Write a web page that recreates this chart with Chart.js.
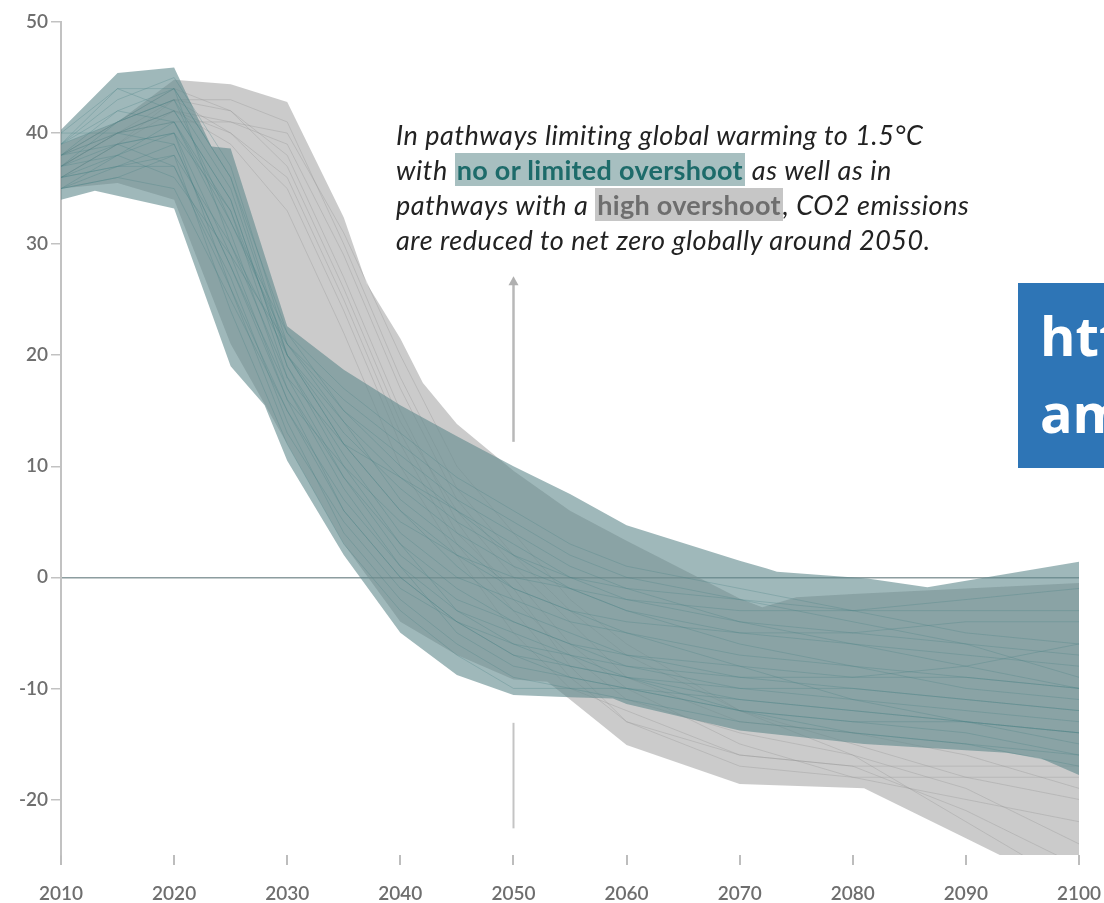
<!DOCTYPE html>
<html>
<head>
<meta charset="utf-8">
<script src="https://cdn.jsdelivr.net/npm/chart.js@4.4.1/dist/chart.umd.min.js"></script>
<style>
  html, body { margin: 0; padding: 0; background: #fff; overflow: hidden; }
  #wrap { position: relative; width: 1104px; height: 903px; }
  #note {
    position: absolute; left: 396px; top: 117px;
    font-family: Lato, "Open Sans", sans-serif; font-style: italic; font-size: 27px;
    letter-spacing: 0.55px; line-height: 35px; color: #222; white-space: nowrap;
  }
  #note .hl { font-style: normal; font-weight: bold; padding: 0 2px; letter-spacing: 0.3px; }
  #note .teal { background: #a7bfc0; color: #1d6b6a; }
  #note .gray { background: #c6c6c6; color: #6e6e6e; }
  #badge {
    position: absolute; left: 1018px; top: 283px; width: 120px; height: 185px;
    background: #2e75b6; color: #fff; overflow: hidden;
    font-family: "Open Sans", "Noto Sans", sans-serif; font-weight: bold; font-size: 54px;
    line-height: 77px; padding: 14px 0 0 22px; box-sizing: border-box; white-space: nowrap;
  }
</style>
</head>
<body>
<div id="wrap">
  <canvas id="c" width="1104" height="903"></canvas>
  <div id="note">In pathways limiting global warming to 1.5°C<br>with <span class="hl teal">no or limited overshoot</span> as well as in<br>pathways with a <span class="hl gray">high overshoot</span>, CO2 emissions<br>are reduced to net zero globally around 2050.</div>
  <div id="badge">htt<br>am</div>
</div>
<script>
// Net global CO2 emissions (GtCO2/yr), 2010–2100

// Years at which the individual pathways are sampled
const years = [2010, 2015, 2020, 2025, 2030, 2035, 2040, 2045, 2050, 2055, 2060, 2070, 2080, 2090, 2100];

// Envelope of pathways with no or limited overshoot: [year, value]
const limitedTop = [[2010, 40.3], [2015, 45.4], [2020, 45.9], [2023.3, 38.8], [2025, 38.6], [2030, 22.6],
  [2035, 18.7], [2040, 15.5], [2045, 12.7], [2050, 10.0], [2055, 7.5], [2060, 4.7], [2070, 1.5],
  [2072.4, 0.8], [2073.3, 0.5], [2081.3, -0.1], [2086.6, -0.9], [2100, 1.4]];
const limitedBottom = [[2010, 34.0], [2013, 34.8], [2020, 33.2], [2025, 19.0], [2028, 15.5], [2030, 10.5],
  [2035, 2.0], [2040, -5.0], [2045, -8.8], [2050, -10.6], [2055, -10.8], [2058.8, -10.9], [2060, -11.4],
  [2070, -13.8], [2081, -15.0], [2093.6, -15.8], [2096.6, -16.3], [2100, -17.8]];

// Envelope of pathways with a high overshoot: [year, value]
const highTop = [[2010, 39.0], [2015, 41.0], [2020, 44.8], [2025, 44.4], [2030, 42.8], [2035, 32.4],
  [2037, 26.5], [2040, 21.5], [2042, 17.5], [2045, 13.8], [2050, 9.6], [2055, 6.0], [2060, 3.3],
  [2070, -1.9], [2072, -2.7], [2075, -1.8], [2080, -1.5], [2090, -1.0], [2100, -0.5]];
const highBottom = [[2010, 35.0], [2015, 35.5], [2020, 34.0], [2025, 21.0], [2030, 12.0], [2035, 3.0],
  [2040, -4.0], [2045, -7.0], [2050, -9.2], [2053, -9.4], [2055, -11.0], [2057.7, -13.2], [2060, -15.1],
  [2070, -18.6], [2081, -19.0], [2090, -23.5], [2093, -25.0], [2100, -31.0]];

// Individual pathways, no or limited overshoot
const limitedPaths = [
  [38, 41, 44, 36, 22, 15, 10, 6, 3, 0, -2, -4, -5, -6, -7],
  [36, 37, 38, 30, 20, 12, 6, 1, -3, -5, -7, -9, -10, -11, -12],
  [35, 36, 35, 25, 15, 6, 0, -4, -7, -8, -9, -11, -12, -13, -15],
  [39, 43, 45, 37, 21, 16, 12, 8, 5, 2, 0, -2, -3, -3, -3],
  [37, 39, 40, 33, 18, 9, 2, -2, -4, -6, -7, -8, -9, -9, -10],
  [40, 44, 42, 34, 19, 11, 4, 0, -2, -4, -5, -7, -8, -10, -11],
  [36, 38, 41, 31, 17, 8, 1, -5, -8, -9, -10, -12, -13, -14, -16],
  [38, 40, 39, 28, 16, 10, 5, 2, 0, -1, -3, -5, -6, -7, -8],
  [35, 37, 37, 27, 14, 4, -2, -6, -9, -10, -10, -11, -12, -13, -14],
  [39, 41, 43, 35, 20, 13, 8, 4, 1, -1, -2, -3, -3, -2, -1],
  [37, 38, 36, 29, 21, 14, 7, 3, -1, -3, -5, -8, -11, -13, -14],
  [38, 42, 44, 30, 18, 12, 9, 6, 2, 0, -1, -2, -4, -6, -9],
  [36, 39, 40, 26, 13, 5, -1, -4, -6, -7, -8, -10, -10, -11, -12],
  [40, 40, 41, 32, 22, 17, 13, 9, 6, 3, 1, -1, -3, -5, -6],
  [35, 36, 38, 24, 12, 3, -3, -7, -10, -10, -11, -13, -14, -15, -17],
  [37, 40, 42, 34, 19, 10, 3, -1, -4, -6, -8, -9, -9, -8, -6],
  [39, 42, 41, 33, 20, 14, 9, 5, 2, -1, -3, -6, -8, -9, -10],
  [36, 37, 39, 28, 17, 9, 3, -3, -6, -8, -9, -10, -11, -12, -13],
  [38, 39, 37, 26, 15, 7, 1, -3, -5, -7, -9, -12, -13, -13, -14],
  [37, 41, 43, 32, 21, 15, 11, 7, 4, 1, -1, -4, -6, -8, -10],
  [35, 38, 40, 29, 16, 6, 0, -4, -7, -9, -10, -12, -14, -15, -16],
  [39, 44, 44, 36, 20, 12, 6, 2, -1, -3, -4, -5, -5, -4, -4]
];

// Individual pathways, high overshoot
const highPaths = [
  [37, 40, 43, 43, 41, 30, 18, 8, 2, -3, -7, -12, -15, -18, -20],
  [38, 41, 44, 42, 38, 27, 15, 5, -2, -7, -11, -14, -16, -19, -24],
  [36, 39, 42, 40, 35, 24, 12, 3, -3, -9, -13, -17, -18, -20, -22],
  [37, 40, 41, 41, 40, 31, 20, 10, 4, -2, -6, -12, -16, -22, -28],
  [38, 40, 42, 39, 33, 22, 10, 2, -5, -10, -12, -16, -17, -17, -17],
  [36, 39, 43, 42, 37, 26, 14, 6, 0, -6, -10, -15, -18, -18, -18],
  [37, 40, 42, 41, 39, 29, 17, 7, 1, -4, -9, -13, -14, -16, -19],
  [38, 41, 43, 40, 36, 25, 13, 4, -1, -8, -13, -16, -17, -21, -26]
];

// Axis ticks
const xTicks = [2010, 2020, 2030, 2040, 2050, 2060, 2070, 2080, 2090, 2100];
const yTicks = [-20, -10, 0, 10, 20, 30, 40, 50];

const toPts = arr => arr.map(([x, y]) => ({ x, y }));
const closedShape = (top, bottom) => toPts(top.concat(bottom.slice().reverse())).concat(toPts([top[0]]));
const pathPts = vals => vals.map((v, i) => ({ x: years[i], y: v }));

const datasets = [];
// lower `order` is painted on top
datasets.push({
  data: closedShape(highTop, highBottom), order: 40,
  borderWidth: 0, backgroundColor: 'rgba(152,152,152,0.5)', fill: 'shape', tension: 0
});
highPaths.forEach(p => datasets.push({
  data: pathPts(p), order: 30, borderColor: 'rgba(150,150,150,0.35)', borderWidth: 1, fill: false
}));
datasets.push({
  data: closedShape(limitedTop, limitedBottom), order: 20,
  borderWidth: 0, backgroundColor: 'rgba(95,137,140,0.6)', fill: 'shape', tension: 0
});
limitedPaths.forEach(p => datasets.push({
  data: pathPts(p), order: 10, borderColor: 'rgba(72,130,132,0.3)', borderWidth: 1, fill: false
}));

// Guide arrow at 2050
const guide = {
  id: 'guide',
  afterDatasetsDraw(chart) {
    const { ctx, scales: { x, y } } = chart;
    const px = Math.round(x.getPixelForValue(2050)) + 0.5;
    ctx.save();
    ctx.strokeStyle = '#b8b8b8';
    ctx.fillStyle = '#b0b0b0';
    ctx.lineWidth = 2.5;
    ctx.beginPath();
    ctx.moveTo(px, y.getPixelForValue(12.2));
    ctx.lineTo(px, y.getPixelForValue(26.4));
    ctx.stroke();
    const tip = y.getPixelForValue(27.1);
    ctx.beginPath();
    ctx.moveTo(px, tip);
    ctx.lineTo(px - 5, tip + 9);
    ctx.lineTo(px + 5, tip + 9);
    ctx.closePath();
    ctx.fill();
    ctx.lineWidth = 2;
    ctx.strokeStyle = '#c4c4c4';
    ctx.beginPath();
    ctx.moveTo(px, y.getPixelForValue(-13.1));
    ctx.lineTo(px, y.getPixelForValue(-22.6));
    ctx.stroke();
    ctx.restore();
  }
};

new Chart(document.getElementById('c'), {
  type: 'line',
  data: { datasets },
  plugins: [guide],
  options: {
    responsive: false,
    animation: false,
    parsing: true,
    elements: { point: { radius: 0 }, line: { tension: 0 } },
    layout: { padding: { top: 22, right: 25, left: 0, bottom: 0 } },
    plugins: { legend: { display: false }, tooltip: { enabled: false } },
    scales: {
      x: {
        type: 'linear', min: 2010, max: 2100,
        afterBuildTicks: s => { s.ticks = xTicks.map(v => ({ value: v })); },
        afterFit: s => { s.height = 48; s.paddingLeft = 0; s.paddingRight = 0; },
        border: { display: false },
        grid: { drawOnChartArea: false, tickColor: '#bdbdbd', tickLength: 10, lineWidth: 2 },
        ticks: {
          callback: v => String(v), color: '#6e6e6e', padding: 17,
          font: { family: 'Lato', size: 19, weight: '600' }, maxRotation: 0
        }
      },
      y: {
        type: 'linear', min: -25, max: 50,
        afterBuildTicks: s => { s.ticks = yTicks.map(v => ({ value: v })); },
        afterFit: s => { s.width = 61; s.paddingTop = 0; s.paddingBottom = 0; },
        border: { display: true, color: '#c2c2c2', width: 2 },
        grid: {
          color: c => (c.tick && c.tick.value === 0 ? 'rgba(120,140,142,0.85)' : 'rgba(0,0,0,0)'),
          lineWidth: 1.5, tickColor: '#c2c2c2', tickLength: 10
        },
        ticks: {
          callback: v => String(v), color: '#6e6e6e', padding: 3,
          font: { family: 'Lato', size: 19, weight: '600' }
        }
      }
    }
  }
});
</script>
</body>
</html>
